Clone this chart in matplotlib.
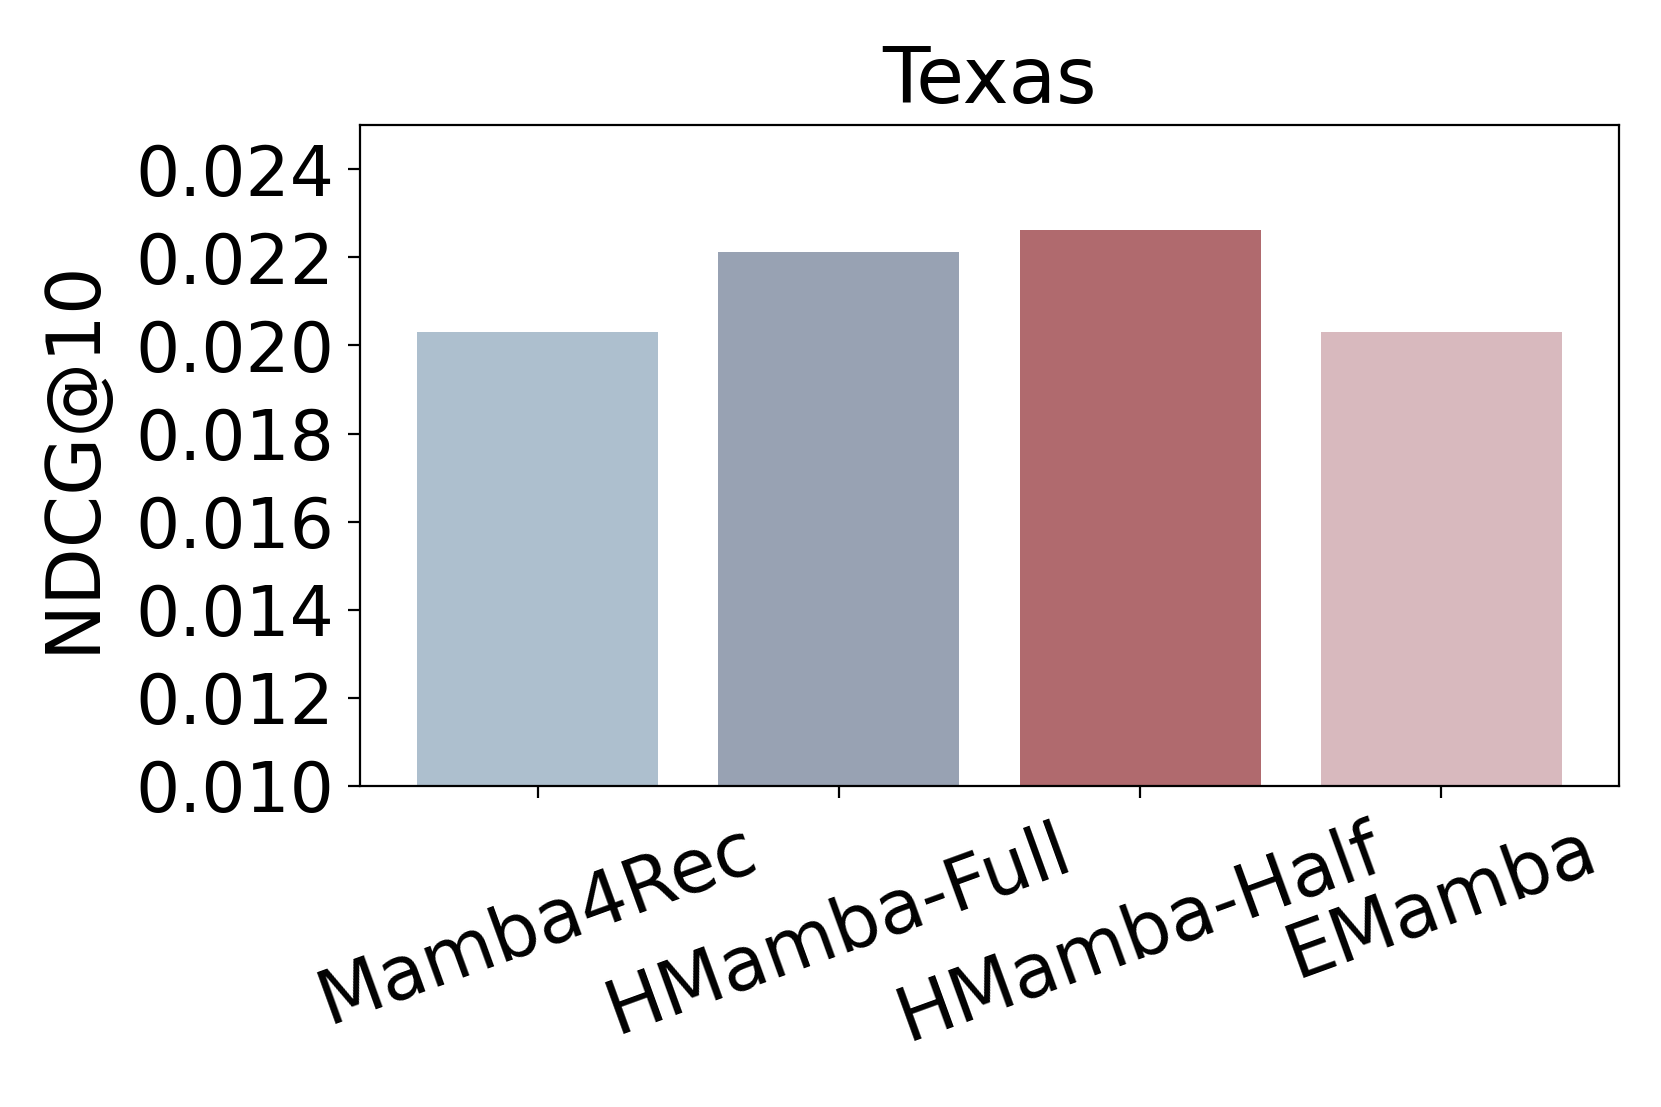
import matplotlib
matplotlib.use('Agg')
import matplotlib.pyplot as plt

models = ['Mamba4Rec', 'HMamba-Full', 'HMamba-Half', 'EMamba']
ndcg = [0.0203, 0.02211, 0.02262, 0.0203]
colors = ['#ADBFCE', '#98A2B3', '#B06A6E', '#D8B9BE']
yticks = [0.010, 0.012, 0.014, 0.016, 0.018, 0.020, 0.022, 0.024]

fig = plt.figure(figsize=(1661/200, 1107/200), dpi=200)
ax = fig.add_axes([0.2167, 0.290, 0.758, 0.597])

ax.bar(range(len(models)), ndcg, color=colors, width=0.8)
ax.set_ylim(0.010, 0.025)
ax.set_yticks(yticks)
ax.set_yticklabels(['%.3f' % v for v in yticks], fontsize=25)
ax.set_xticks(range(len(models)))
ax.set_xticklabels(models, fontsize=27, rotation=20)
ax.tick_params(axis='both', length=4.3)
ax.tick_params(axis='y', pad=5)
ax.tick_params(axis='x', pad=5.5)
ax.set_ylabel('NDCG@10', fontsize=27, labelpad=9)
ax.set_title('Texas', fontsize=28, pad=8)

fig.savefig('out.png', dpi=200)
